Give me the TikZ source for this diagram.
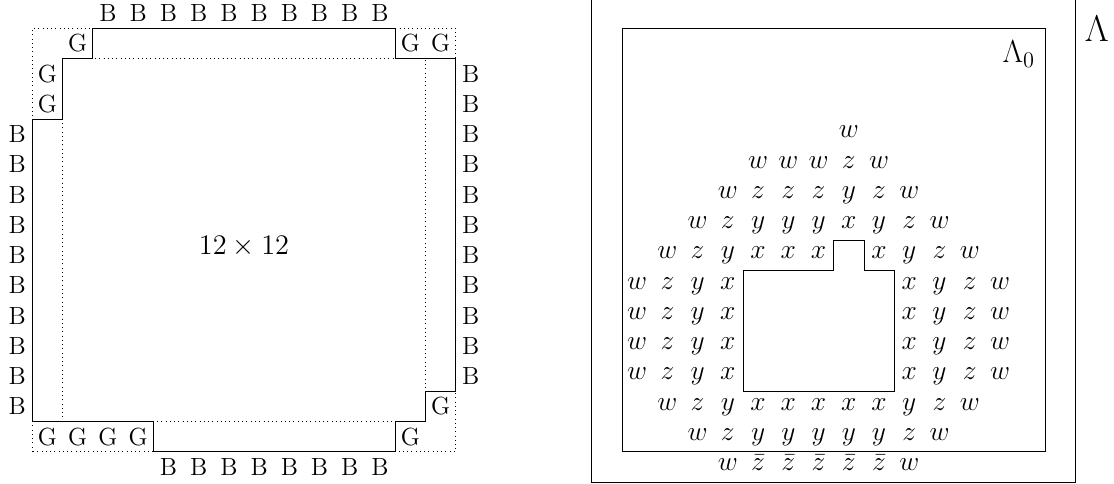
\documentclass[tikz,border=0pt]{standalone}
\usepackage{fix-cm}

\begin{document}
\begin{tikzpicture}[x=0.6cm, y=0.6cm,
    dotgrid/.style={dotted},
    wall/.style={draw, line join=miter},
    region/.style={draw},
    letter/.style={inner sep=0pt, font=\fontsize{14}{16}\selectfont},
    site/.style={inner sep=0pt, text height=1ex, text depth=0pt,
      font=\fontsize{15.5}{18}\selectfont}
  ]
  \useasboundingbox (-1.068,-1.068) rectangle (35.77,14.937);

  % left lattice, 14 x 14 with its boundary
  \draw[dotgrid] (0,0) rectangle (14,14);
  \draw[dotgrid] (1,1) rectangle (13,13);
  \draw[wall] (2,14) -- (12,14) -- (12,13) -- (14,13) -- (14,2) -- (13,2)
    -- (13,1) -- (12,1) -- (12,0) -- (4,0) -- (4,1) -- (0,1) -- (0,11)
    -- (1,11) -- (1,13) -- (2,13) -- cycle;
  \node[font=\fontsize{16}{19}\selectfont] (size) at (7,6.8) {$12\times 12$};

  \foreach \i in {2,...,11}
    \node[letter] (bt\i) at (\i+0.5,14.5) {B};
  \foreach \i in {4,...,11}
    \node[letter] (bb\i) at (\i+0.5,-0.5) {B};
  \foreach \j in {1,...,10}
    \node[letter] (bl\j) at (-0.5,\j+0.5) {B};
  \foreach \j in {2,...,12}
    \node[letter] (br\j) at (14.5,\j+0.5) {B};
  \foreach \x/\y [count=\k] in {1.5/13.5, 0.5/12.5, 0.5/11.5, 12.5/13.5,
      13.5/13.5, 13.5/1.5, 12.5/0.5, 0.5/0.5, 1.5/0.5, 2.5/0.5, 3.5/0.5}
    \node[letter] (g\k) at (\x,\y) {G};

  % right lattice, Lambda_0 inside Lambda
  \begin{scope}[shift={(23.5,2)}]
    \draw[region] (-5,-3) rectangle (11,13);
    \draw[region] (-4,-2) rectangle (10,12);
    \draw[wall] (0,0) -- (5,0) -- (5,4) -- (4,4) -- (4,5) -- (3,5) -- (3,4)
      -- (0,4) -- cycle;
    \node[inner sep=0pt, font=\fontsize{18}{21}\selectfont] (lam0)
      at (9.12,11.15) {$\Lambda_0$};
    \node[inner sep=0pt, font=\fontsize{21}{25}\selectfont] (lam)
      at (11.7,11.98) {$\Lambda$};

    \foreach \r/\s/\row in {8/3/{w}, 7/0/{w,w,w,z,w}, 6/-1/{w,z,z,z,y,z,w},
        5/-2/{w,z,y,y,y,x,y,z,w}, 4/-3/{w,z,y,x,x,x}, 4/4/{x,y,z,w},
        3/-4/{w,z,y,x}, 3/5/{x,y,z,w}, 2/-4/{w,z,y,x}, 2/5/{x,y,z,w},
        1/-4/{w,z,y,x}, 1/5/{x,y,z,w}, 0/-4/{w,z,y,x}, 0/5/{x,y,z,w},
        -1/-3/{w,z,y,x,x,x,x,x,y,z,w}, -2/-2/{w,z,y,y,y,y,y,z,w},
        -3/-1/{w,\bar z,\bar z,\bar z,\bar z,\bar z,w}}
      \foreach \l [count=\c from \s] in \row
        \node[site] (s\r c\c) at (\c+0.5,\r+0.5) {$\l$};
  \end{scope}
\end{tikzpicture}
\end{document}
